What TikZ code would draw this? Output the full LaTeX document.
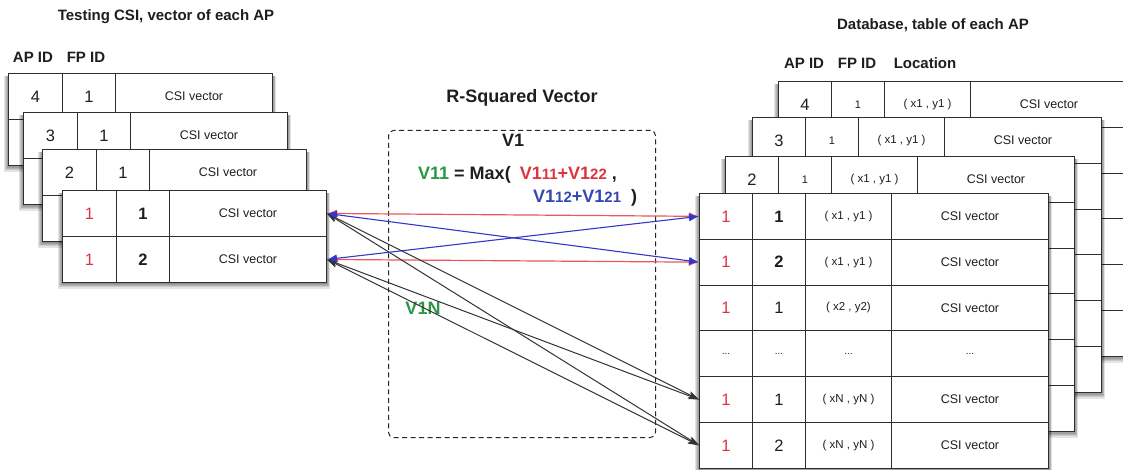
\documentclass[tikz,border=0pt]{standalone}
\usepackage{fontspec}
\setmainfont{Liberation Sans}
\usetikzlibrary{arrows.meta}

\definecolor{gridc}{HTML}{2E2E2E}
\definecolor{textc}{HTML}{1E1E1E}
\definecolor{redt}{HTML}{DC3540}
\definecolor{redl}{HTML}{E8585C}
\definecolor{bluel}{HTML}{3636CC}
\definecolor{bluet}{HTML}{3347B5}
\definecolor{greent}{HTML}{2B9846}
\definecolor{arrowc}{HTML}{333333}

\newcommand\numf{\fontsize{16.5}{16.5}\selectfont}
\newcommand\smallf{\fontsize{11}{11}\selectfont}
\newcommand\csif{\fontsize{12.5}{12.5}\selectfont}
\newcommand\locf{\fontsize{11.5}{11.5}\selectfont}
\newcommand\dotf{\fontsize{10}{10}\selectfont\color{gray}}

% soft shadow under a card: left, top, width, height (y grows downwards)
\newcommand\cardshade[4]{%
  \foreach \k in {0,...,4}{%
    \fill[black,opacity=0.11] (#1-\k*0.8-0.5,#2+3) rectangle (#1+#3+\k*0.8+1,#2+#4+\k*1.3+1.5);
  }%
}

\begin{document}
\begin{tikzpicture}[x=1pt,y=-1pt,
  cell/.style={draw=gridc, line width=0.9pt, fill=white, inner sep=0pt,
    anchor=north west, minimum height=46pt, text=textc},
  rcell/.style={cell, minimum height=45.8pt},
  title/.style={font=\bfseries\fontsize{15}{15}\selectfont, text=textc, inner sep=0pt},
  hdr/.style={font=\bfseries\fontsize{15}{15}\selectfont, text=textc, inner sep=0pt},
  eqf/.style={font=\bfseries\fontsize{18}{18}\selectfont, text=textc, inner sep=0pt},
  redlink/.style={draw=redl, line width=1.2pt, {Latex[length=10pt,width=8pt]}-{Latex[length=10pt,width=8pt]}},
  bluelink/.style={draw=bluel, line width=1.1pt, {Latex[length=10pt,width=8pt]}-{Latex[length=10pt,width=8pt]}},
  blacklink/.style={draw=arrowc, line width=1pt, {Stealth[length=11pt,width=7pt]}-{Stealth[length=11pt,width=7pt]}},
]
\useasboundingbox (0,0) rectangle (1123,470);
\fill[white] (0,0) rectangle (1123,470);

% ---------- headings ----------
\node[title] (lttl) at (166,17) {Testing CSI, vector of each AP};
\node[hdr] (lap) at (33,57) {AP ID};
\node[hdr] (lfp) at (86,57) {FP ID};
\node[title] (rttl) at (933,25) {Database, table of each AP};
\node[hdr] (rap) at (804,63) {AP ID};
\node[hdr] (rfp) at (857,63) {FP ID};
\node[hdr] (rloc) at (925,63) {Location};

% ---------- testing CSI cards (left) ----------
\foreach \lx/\ty/\ap in {8/73/4,23/112/3,42/149/2}{
  \cardshade{\lx}{\ty}{264}{92}
  \node[cell,minimum width=54pt,font=\numf] (L\ap-1-1) at (\lx,\ty) {\ap};
  \node[cell,minimum width=53pt,font=\numf] (L\ap-1-2) at (\lx+54,\ty) {1};
  \node[cell,minimum width=157pt,font=\csif] (L\ap-1-3) at (\lx+107,\ty) {CSI vector};
  \node[cell,minimum width=54pt] (L\ap-2-1) at (\lx,\ty+46) {};
  \node[cell,minimum width=53pt] (L\ap-2-2) at (\lx+54,\ty+46) {};
  \node[cell,minimum width=157pt] (L\ap-2-3) at (\lx+107,\ty+46) {};
}
\cardshade{62}{190}{264}{92}
\node[cell,minimum width=54pt,font=\numf,text=redt] (Lf-1-1) at (62,190) {1};
\node[cell,minimum width=53pt,font=\numf\bfseries] (Lf-1-2) at (116,190) {1};
\node[cell,minimum width=157pt,font=\csif] (Lf-1-3) at (169,190) {CSI vector};
\node[cell,minimum width=54pt,font=\numf,text=redt] (Lf-2-1) at (62,236) {1};
\node[cell,minimum width=53pt,font=\numf\bfseries] (Lf-2-2) at (116,236) {2};
\node[cell,minimum width=157pt,font=\csif] (Lf-2-3) at (169,236) {CSI vector};

% ---------- database cards (right) ----------
\foreach \lx/\ty/\ap in {778/81/4,752/117/3,725/156/2}{
  \cardshade{\lx}{\ty}{349}{274.8}
  \node[rcell,minimum width=53pt,font=\numf] (R\ap-1-1) at (\lx,\ty) {\ap};
  \node[rcell,minimum width=53pt,font=\smallf] (R\ap-1-2) at (\lx+53,\ty) {1};
  \node[rcell,minimum width=86pt,font=\locf] (R\ap-1-3) at (\lx+106,\ty) {( x1 , y1 )};
  \node[rcell,minimum width=157pt,font=\csif] (R\ap-1-4) at (\lx+192,\ty) {CSI vector};
  \foreach \r in {2,...,6}{
    \node[rcell,minimum width=53pt] (R\ap-\r-1) at (\lx,\ty+45.8*\r-45.8) {};
    \node[rcell,minimum width=53pt] (R\ap-\r-2) at (\lx+53,\ty+45.8*\r-45.8) {};
    \node[rcell,minimum width=86pt] (R\ap-\r-3) at (\lx+106,\ty+45.8*\r-45.8) {};
    \node[rcell,minimum width=157pt] (R\ap-\r-4) at (\lx+192,\ty+45.8*\r-45.8) {};
  }
}
\cardshade{699}{193}{349}{274.8}
\foreach \r/\fp/\loc in {1/\bfseries 1/{( x1 , y1 )},2/\bfseries 2/{( x1 , y1 )},3/1/{( x2 , y2)},5/1/{( xN , yN )},6/2/{( xN , yN )}}{
  \node[rcell,minimum width=53pt,font=\numf,text=redt] (Rf-\r-1) at (699,193+45.8*\r-45.8) {1};
  \node[rcell,minimum width=53pt,font=\numf] (Rf-\r-2) at (752,193+45.8*\r-45.8) {\fp};
  \node[rcell,minimum width=86pt,font=\locf] (Rf-\r-3) at (805,193+45.8*\r-45.8) {\loc};
  \node[rcell,minimum width=157pt,font=\csif] (Rf-\r-4) at (891,193+45.8*\r-45.8) {CSI vector};
}
\node[rcell,minimum width=53pt,font=\dotf] (Rf-4-1) at (699,330.4) {...};
\node[rcell,minimum width=53pt,font=\dotf] (Rf-4-2) at (752,330.4) {...};
\node[rcell,minimum width=86pt,font=\dotf] (Rf-4-3) at (805,330.4) {...};
\node[rcell,minimum width=157pt,font=\dotf] (Rf-4-4) at (891,330.4) {...};

% ---------- R-squared vector block ----------
\node[eqf] (rsq) at (522,98) {R-Squared Vector};
\node[draw=black!85, line width=1pt, dash pattern=on 5pt off 3.5pt, rounded corners=5pt,
  minimum width=267pt, minimum height=307pt, anchor=north west, inner sep=0pt] (rbox) at (388,130) {};
\node[eqf] (v1) at (513,140) {V1};
\node[eqf, anchor=west] (eq1) at (418,175)
  {\textcolor{greent}{V11} = Max(\hspace{9pt}\textcolor{redt}{V1{\fontsize{15}{15}\selectfont 11}+V1{\fontsize{15}{15}\selectfont 22}} ,};
\node[eqf, anchor=west] (eq2) at (533,198)
  {\textcolor{bluet}{V1{\fontsize{15}{15}\selectfont 12}+V1{\fontsize{15}{15}\selectfont 21}}\hspace{10pt})};
\node[eqf, text=greent] (v1n) at (423,308) {V1N};

% ---------- links ----------
\draw[redlink] (Lf-1-3.east) -- (Rf-1-1.west);
\draw[redlink] (Lf-2-3.east) -- (Rf-2-1.west);
\draw[blacklink] (Lf-1-3.east) -- (Rf-5-1.west);
\draw[blacklink] (Lf-1-3.east) -- (Rf-6-1.west);
\draw[blacklink] (Lf-2-3.east) -- (Rf-5-1.west);
\draw[blacklink] (Lf-2-3.east) -- (Rf-6-1.west);
\draw[bluelink] (Lf-1-3.east) -- (Rf-2-1.west);
\draw[bluelink] (Lf-2-3.east) -- (Rf-1-1.west);
\end{tikzpicture}
\end{document}
